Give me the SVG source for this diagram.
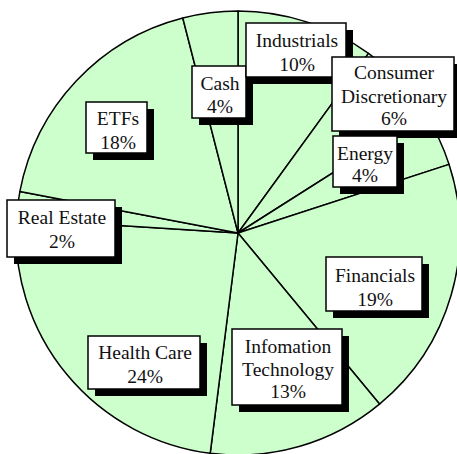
<svg xmlns="http://www.w3.org/2000/svg" width="457" height="454" viewBox="0 0 457 454">
<style>
.slice{fill:#ccffcc;stroke:#000;stroke-width:1.5;stroke-linejoin:round}
.shadow{fill:#000}
.box{fill:#fff;stroke:#000;stroke-width:1.5}
text{font-family:"Liberation Serif","Times New Roman",serif;font-size:19.5px;fill:#111;text-anchor:middle}
</style>
<rect width="457" height="454" fill="#fff"/>
<g id="pie">
<path id="slice-industrials" class="slice" d="M238 233 L238 11 A222 222 0 0 1 368.5 53.4 Z"/>
<path id="slice-consumer" class="slice" d="M238 233 L368.5 53.4 A222 222 0 0 1 425.4 114.1 Z"/>
<path id="slice-energy" class="slice" d="M238 233 L425.4 114.1 A222 222 0 0 1 449.1 164.4 Z"/>
<path id="slice-financials" class="slice" d="M238 233 L449.1 164.4 A222 222 0 0 1 379.5 404.1 Z"/>
<path id="slice-it" class="slice" d="M238 233 L379.5 404.1 A222 222 0 0 1 210.2 453.3 Z"/>
<path id="slice-healthcare" class="slice" d="M238 233 L210.2 453.3 A222 222 0 0 1 16.4 219.1 Z"/>
<path id="slice-realestate" class="slice" d="M238 233 L16.4 219.1 A222 222 0 0 1 19.9 191.4 Z"/>
<path id="slice-etfs" class="slice" d="M238 233 L19.9 191.4 A222 222 0 0 1 182.8 18 Z"/>
<path id="slice-cash" class="slice" d="M238 233 L182.8 18 A222 222 0 0 1 238 11 Z"/>
</g>
<g id="label-cash">
<rect class="shadow" x="199" y="73" width="54" height="52"/>
<rect class="box" x="192" y="66" width="54" height="52"/>
<text x="220" y="90">Cash</text>
<text x="220" y="113">4%</text>
</g>
<g id="label-industrials">
<rect class="shadow" x="253" y="30" width="100" height="54"/>
<rect class="box" x="246" y="23" width="100" height="54"/>
<text x="297" y="47">Industrials</text>
<text x="297" y="71">10%</text>
</g>
<g id="label-consumer">
<rect class="shadow" x="339" y="64" width="122" height="74"/>
<rect class="box" x="332" y="57" width="122" height="74"/>
<text x="394" y="79">Consumer</text>
<text x="394" y="103">Discretionary</text>
<text x="394" y="125">6%</text>
</g>
<g id="label-energy">
<rect class="shadow" x="340" y="143" width="64" height="51"/>
<rect class="box" x="333" y="136" width="64" height="51"/>
<text x="365" y="160">Energy</text>
<text x="365" y="182">4%</text>
</g>
<g id="label-etfs">
<rect class="shadow" x="93" y="109" width="61" height="51"/>
<rect class="box" x="86" y="102" width="61" height="51"/>
<text x="118" y="125">ETFs</text>
<text x="118" y="149">18%</text>
</g>
<g id="label-realestate">
<rect class="shadow" x="14" y="207" width="108" height="57"/>
<rect class="box" x="7" y="200" width="108" height="57"/>
<text x="62" y="224">Real Estate</text>
<text x="62" y="248">2%</text>
</g>
<g id="label-healthcare">
<rect class="shadow" x="95" y="343" width="112" height="53"/>
<rect class="box" x="88" y="336" width="112" height="53"/>
<text x="145" y="359">Health Care</text>
<text x="145" y="383">24%</text>
</g>
<g id="label-it">
<rect class="shadow" x="239" y="336" width="110" height="76"/>
<rect class="box" x="232" y="329" width="110" height="76"/>
<text x="288" y="353">Infomation</text>
<text x="288" y="376">Technology</text>
<text x="288" y="398">13%</text>
</g>
<g id="label-financials">
<rect class="shadow" x="333" y="264" width="96" height="54"/>
<rect class="box" x="326" y="257" width="96" height="54"/>
<text x="375" y="282">Financials</text>
<text x="375" y="306">19%</text>
</g>
</svg>
